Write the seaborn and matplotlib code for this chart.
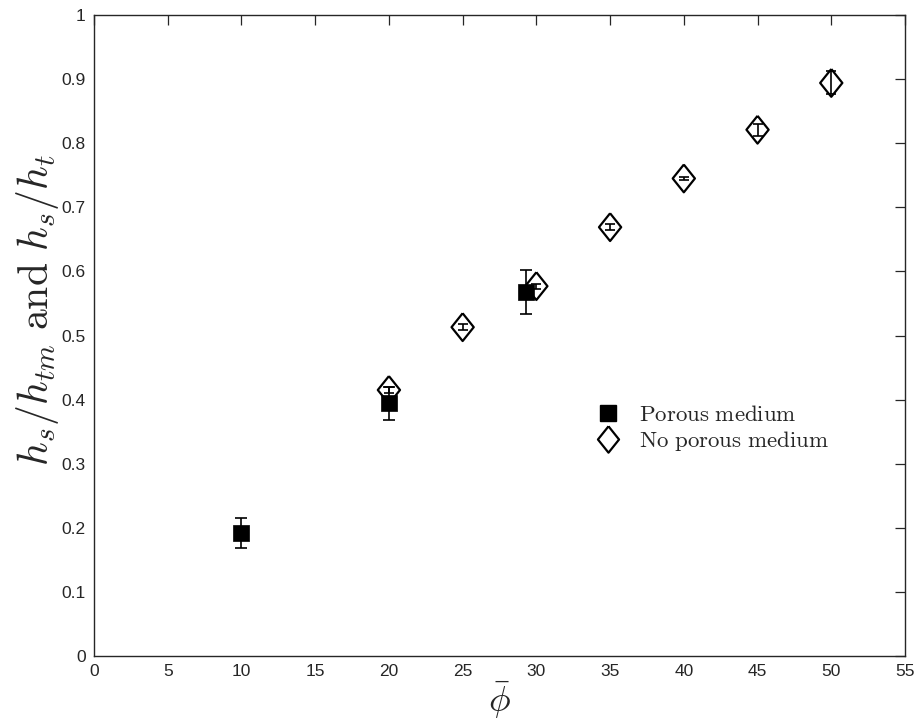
import matplotlib
matplotlib.use("Agg")
import matplotlib.pyplot as plt
import seaborn as sns
import pandas as pd
import numpy as np
from matplotlib.lines import Line2D

# Data
porous_x = [10, 20, 29.3]
porous_y = [0.192, 0.394, 0.568]
porous_err = [0.023, 0.026, 0.034]

noporous_x = [20, 25, 30, 35, 40, 45, 50]
noporous_y = [0.415, 0.513, 0.577, 0.669, 0.745, 0.821, 0.894]
noporous_err = [0.005, 0.005, 0.004, 0.005, 0.003, 0.009, 0.018]

xticks = list(range(0, 56, 5))
yticks = [0, 0.1, 0.2, 0.3, 0.4, 0.5, 0.6, 0.7, 0.8, 0.9, 1]
ytick_labels = ["0", "0.1", "0.2", "0.3", "0.4", "0.5", "0.6", "0.7", "0.8", "0.9", "1"]

sns.set_style("white")
plt.rcParams['font.family'] = ['Liberation Sans', 'DejaVu Sans']
plt.rcParams['mathtext.fontset'] = 'cm'

fig = plt.figure(figsize=(9.2, 7.23), dpi=100)
ax = fig.add_axes([94/920, 1-656/723, (905-94)/920, (656-15)/723])

df_p = pd.DataFrame({"x": porous_x, "y": porous_y})
df_n = pd.DataFrame({"x": noporous_x, "y": noporous_y})

diamond = [(0, 1), (0.8, 0), (0, -1), (-0.8, 0), (0, 1)]

# error bars
ax.errorbar(porous_x, porous_y, yerr=porous_err, fmt='none', ecolor='black',
            elinewidth=1.2, capsize=4, capthick=1.2, zorder=2)
sns.scatterplot(data=df_p, x="x", y="y", marker='s', s=12**2, color='black',
                edgecolor='black', linewidth=0.5, ax=ax, zorder=3, legend=False)
ax.errorbar(noporous_x, noporous_y, yerr=noporous_err, fmt='none', ecolor='black',
            elinewidth=1.2, capsize=3.5, capthick=1.2, zorder=4)
sns.scatterplot(data=df_n, x="x", y="y", marker=diamond, s=20**2, facecolor='none',
                edgecolor='black', linewidth=1.6, ax=ax, zorder=5, legend=False)

ax.set_xlim(0, 55)
ax.set_ylim(0, 1)
ax.set_xticks(xticks)
ax.set_yticks(yticks)
ax.set_yticklabels(ytick_labels)
ax.tick_params(direction='in', length=7, width=0.9, color='#262626',
               labelsize=12.5, labelcolor='#262626', top=True, right=True,
               pad=6)
for s in ax.spines.values():
    s.set_color('#262626')
    s.set_linewidth(1.0)
    s.set_visible(True)

ax.set_xlabel(r'$\bar{\phi}$', fontsize=26, labelpad=0)
ax.set_ylabel(r'$h_s/h_{tm}\ \mathrm{and}\ h_s/h_t$', fontsize=30)
ax.yaxis.set_label_coords(-0.041, 0.54)

handles = [
    Line2D([], [], marker='s', color='black', linestyle='none', markersize=12),
    Line2D([], [], marker=diamond, markerfacecolor='none', markeredgecolor='black',
           markeredgewidth=1.6, linestyle='none', markersize=19),
]
labels = [r'$\mathrm{Porous\ medium}$', r'$\mathrm{No\ porous\ medium}$']
leg = ax.legend(handles, labels, loc='center left', bbox_to_anchor=(0.620, 0.356),
                frameon=False, fontsize=16.5, handletextpad=0.85, labelspacing=0.12,
                handlelength=1.0, borderpad=0, borderaxespad=0)

fig.savefig("out.png", dpi=100)
